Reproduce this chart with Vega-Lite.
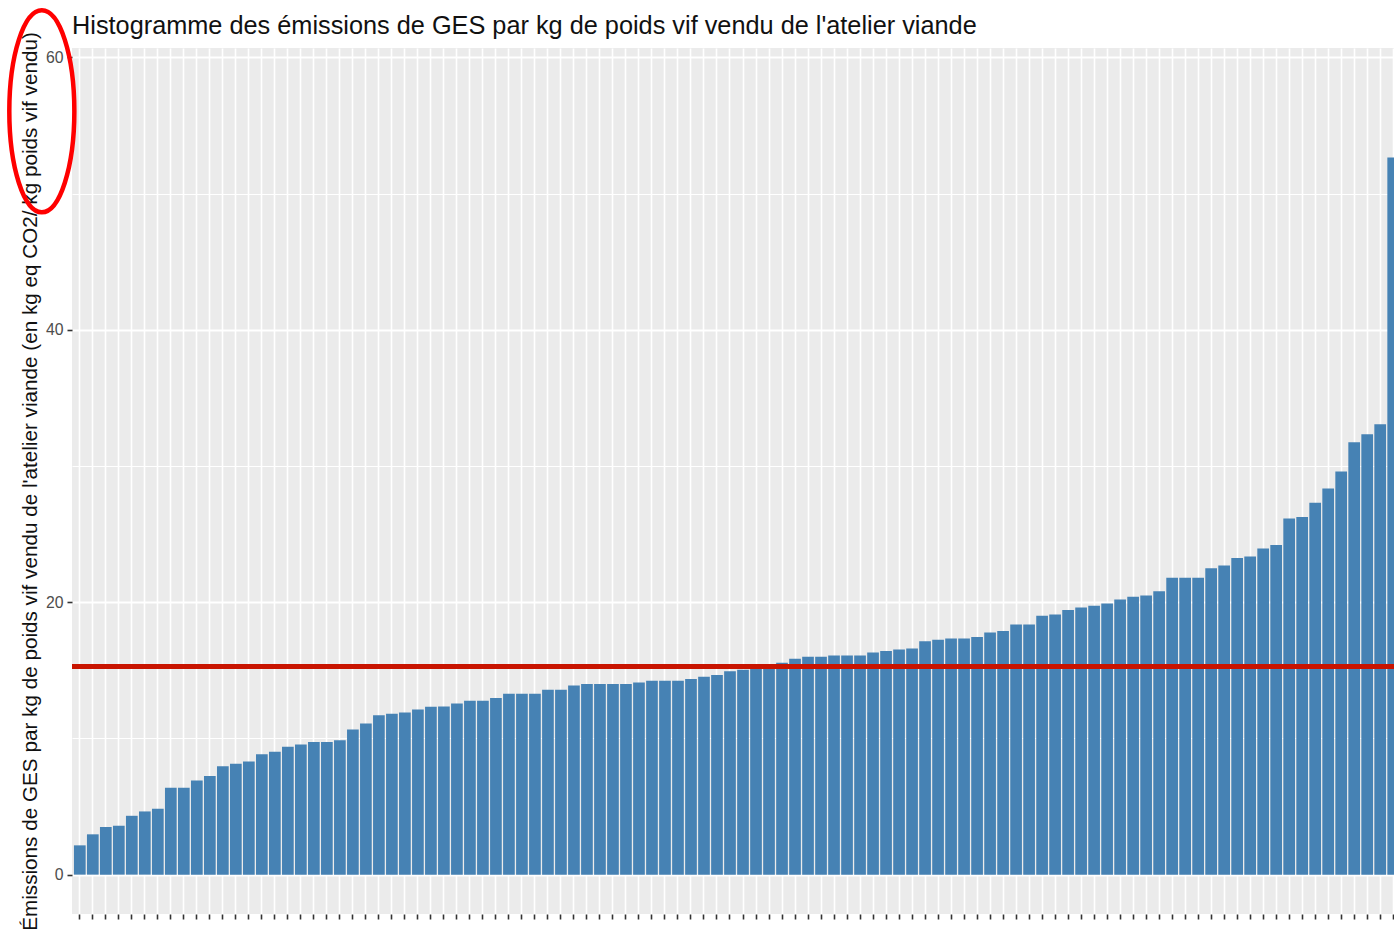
{
  "$schema": "https://vega.github.io/schema/vega-lite/v6.json",
  "autosize": {"type": "none"},
  "padding": {"left": 72, "top": 48, "right": -7, "bottom": 16},
  "width": 1329,
  "height": 866,
  "background": "white",
  "config": {
    "font": "Liberation Sans",
    "view": {"fill": "#EBEBEB", "stroke": null}
  },
  "title": {
    "text": "Histogramme des émissions de GES par kg de poids vif vendu de l'atelier viande",
    "anchor": "start",
    "frame": "group",
    "fontSize": 25.3,
    "fontWeight": "normal",
    "color": "#111111",
    "font": "Liberation Sans",
    "offset": 10,
    "baseline": "alphabetic",
    "dy": 68
  },
  "datasets": {
    "ges": [
      {"exploitation": "001", "ges": 2.15},
      {"exploitation": "002", "ges": 2.96},
      {"exploitation": "003", "ges": 3.49},
      {"exploitation": "004", "ges": 3.59},
      {"exploitation": "005", "ges": 4.32},
      {"exploitation": "006", "ges": 4.64},
      {"exploitation": "007", "ges": 4.84},
      {"exploitation": "008", "ges": 6.38},
      {"exploitation": "009", "ges": 6.38},
      {"exploitation": "010", "ges": 6.92},
      {"exploitation": "011", "ges": 7.24},
      {"exploitation": "012", "ges": 7.95},
      {"exploitation": "013", "ges": 8.14},
      {"exploitation": "014", "ges": 8.3},
      {"exploitation": "015", "ges": 8.83},
      {"exploitation": "016", "ges": 9.02},
      {"exploitation": "017", "ges": 9.39},
      {"exploitation": "018", "ges": 9.56},
      {"exploitation": "019", "ges": 9.73},
      {"exploitation": "020", "ges": 9.73},
      {"exploitation": "021", "ges": 9.86},
      {"exploitation": "022", "ges": 10.66},
      {"exploitation": "023", "ges": 11.1},
      {"exploitation": "024", "ges": 11.71},
      {"exploitation": "025", "ges": 11.81},
      {"exploitation": "026", "ges": 11.91},
      {"exploitation": "027", "ges": 12.13},
      {"exploitation": "028", "ges": 12.33},
      {"exploitation": "029", "ges": 12.35},
      {"exploitation": "030", "ges": 12.57},
      {"exploitation": "031", "ges": 12.76},
      {"exploitation": "032", "ges": 12.76},
      {"exploitation": "033", "ges": 12.96},
      {"exploitation": "034", "ges": 13.28},
      {"exploitation": "035", "ges": 13.28},
      {"exploitation": "036", "ges": 13.28},
      {"exploitation": "037", "ges": 13.57},
      {"exploitation": "038", "ges": 13.57},
      {"exploitation": "039", "ges": 13.89},
      {"exploitation": "040", "ges": 13.99},
      {"exploitation": "041", "ges": 13.99},
      {"exploitation": "042", "ges": 13.99},
      {"exploitation": "043", "ges": 13.99},
      {"exploitation": "044", "ges": 14.11},
      {"exploitation": "045", "ges": 14.23},
      {"exploitation": "046", "ges": 14.23},
      {"exploitation": "047", "ges": 14.23},
      {"exploitation": "048", "ges": 14.36},
      {"exploitation": "049", "ges": 14.53},
      {"exploitation": "050", "ges": 14.65},
      {"exploitation": "051", "ges": 14.94},
      {"exploitation": "052", "ges": 15.05},
      {"exploitation": "053", "ges": 15.2},
      {"exploitation": "054", "ges": 15.4},
      {"exploitation": "055", "ges": 15.55},
      {"exploitation": "056", "ges": 15.85},
      {"exploitation": "057", "ges": 15.99},
      {"exploitation": "058", "ges": 15.99},
      {"exploitation": "059", "ges": 16.09},
      {"exploitation": "060", "ges": 16.09},
      {"exploitation": "061", "ges": 16.09},
      {"exploitation": "062", "ges": 16.31},
      {"exploitation": "063", "ges": 16.41},
      {"exploitation": "064", "ges": 16.53},
      {"exploitation": "065", "ges": 16.61},
      {"exploitation": "066", "ges": 17.14},
      {"exploitation": "067", "ges": 17.24},
      {"exploitation": "068", "ges": 17.34},
      {"exploitation": "069", "ges": 17.34},
      {"exploitation": "070", "ges": 17.44},
      {"exploitation": "071", "ges": 17.78},
      {"exploitation": "072", "ges": 17.88},
      {"exploitation": "073", "ges": 18.37},
      {"exploitation": "074", "ges": 18.37},
      {"exploitation": "075", "ges": 19.0},
      {"exploitation": "076", "ges": 19.1},
      {"exploitation": "077", "ges": 19.42},
      {"exploitation": "078", "ges": 19.62},
      {"exploitation": "079", "ges": 19.74},
      {"exploitation": "080", "ges": 19.9},
      {"exploitation": "081", "ges": 20.2},
      {"exploitation": "082", "ges": 20.4},
      {"exploitation": "083", "ges": 20.5},
      {"exploitation": "084", "ges": 20.8},
      {"exploitation": "085", "ges": 21.8},
      {"exploitation": "086", "ges": 21.8},
      {"exploitation": "087", "ges": 21.8},
      {"exploitation": "088", "ges": 22.5},
      {"exploitation": "089", "ges": 22.7},
      {"exploitation": "090", "ges": 23.25},
      {"exploitation": "091", "ges": 23.35},
      {"exploitation": "092", "ges": 23.95},
      {"exploitation": "093", "ges": 24.2},
      {"exploitation": "094", "ges": 26.15},
      {"exploitation": "095", "ges": 26.25},
      {"exploitation": "096", "ges": 27.3},
      {"exploitation": "097", "ges": 28.35},
      {"exploitation": "098", "ges": 29.6},
      {"exploitation": "099", "ges": 31.74},
      {"exploitation": "100", "ges": 32.34},
      {"exploitation": "101", "ges": 33.07},
      {"exploitation": "102", "ges": 52.65}
    ],
    "moyenne": [{"moyenne": 15.28}]
  },
  "layer": [
    {
      "data": {"name": "ges"},
      "mark": {"type": "bar", "color": "#4682B4"},
      "encoding": {
        "x": {
          "field": "exploitation",
          "type": "nominal",
          "scale": {"paddingInner": 0.1, "paddingOuter": 0.15},
          "axis": {
            "title": null,
            "labels": false,
            "domain": false,
            "ticks": true,
            "tickSize": 5,
            "tickWidth": 1.6,
            "tickColor": "#333333",
            "bandPosition": 0.5,
            "grid": true,
            "gridColor": "#FFFFFF",
            "gridWidth": 1.6
          }
        },
        "y": {
          "field": "ges",
          "type": "quantitative",
          "scale": {"domain": [-2.89, 60.69], "nice": false, "zero": false},
          "axis": {
            "orient": "left",
            "values": [0, 20, 40, 60],
            "title": "Émissions de GES par kg de poids vif vendu de l'atelier viande (en kg eq CO2/ kg poids vif vendu)",
            "titleFont": "Liberation Sans",
            "titleFontSize": 20.7,
            "titleFontWeight": "normal",
            "titleColor": "#111111",
            "titlePadding": 5,
            "labelFont": "Liberation Sans",
            "labelFontSize": 15.8,
            "labelColor": "#4D4D4D",
            "labelPadding": 4,
            "domain": false,
            "tickSize": 5,
            "tickWidth": 1.6,
            "tickColor": "#333333",
            "grid": true,
            "gridColor": "#FFFFFF",
            "gridWidth": 1.8
          }
        }
      }
    },
    {
      "data": {"name": "moyenne"},
      "mark": {"type": "rule", "color": "#C81400", "strokeWidth": 5},
      "encoding": {
        "y": {
          "field": "moyenne",
          "type": "quantitative",
          "axis": {
            "orient": "left",
            "values": [10, 30, 50],
            "title": null,
            "labels": false,
            "ticks": false,
            "domain": false,
            "grid": true,
            "gridColor": "#FFFFFF",
            "gridWidth": 1
          }
        }
      }
    },
    {
      "data": {"values": [{"note": "ellipse"}]},
      "mark": {
        "type": "point",
        "shape": "M -0.698 0 A 0.322 1 0 1 0 -0.054 0 A 0.322 1 0 1 0 -0.698 0 Z",
        "size": 40804,
        "filled": false,
        "stroke": "#FF0000",
        "strokeWidth": 4.5,
        "opacity": 1,
        "clip": false
      },
      "encoding": {
        "x": {"datum": "001"},
        "y": {"datum": 56.04, "axis": null}
      }
    }
  ],
  "resolve": {"axis": {"y": "independent"}}
}
